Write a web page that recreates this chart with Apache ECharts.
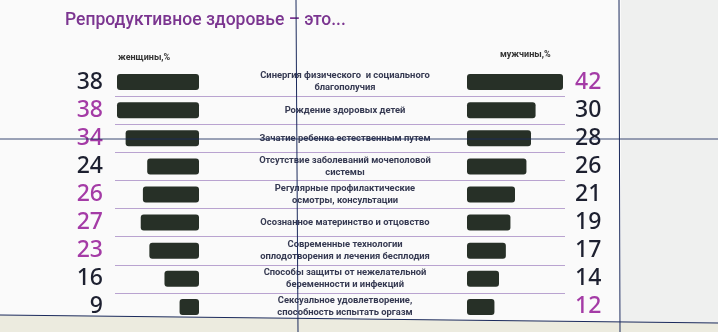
<!DOCTYPE html>
<html><head><meta charset="utf-8">
<script src="https://cdn.jsdelivr.net/npm/echarts@6/dist/echarts.min.js"></script>
<style>html,body{margin:0;padding:0;background:#fbfbfb}#c{width:718px;height:332px}</style>
</head><body><div id="c"></div>
<script>
var categories = [
  "Синергия физического  и социального\nблагополучия",
  "Рождение здоровых детей",
  "Зачатие ребенка естественным путем",
  "Отсутствие заболеваний мочеполовой\nсистемы",
  "Регулярные профилактические\nосмотры, консультации",
  "Осознанное материнство и отцовство",
  "Современные технологии\nоплодотворения и лечения бесплодия",
  "Способы защиты от нежелательной\nбеременности и инфекций",
  "Сексуальное удовлетворение,\nспособность испытать оргазм"
];
var women = [38, 38, 34, 24, 26, 27, 23, 16, 9];
var men = [42, 30, 28, 26, 21, 19, 17, 14, 12];
// highlighted (purple) values in the source
var womenHighlight = [false, true, true, false, true, true, true, false, false];
var menHighlight = [true, false, false, false, false, false, false, false, true];
var titleText = "Репродуктивное здоровье – это...";
var womenLabel = "женщины,%";
var menLabel = "мужчины,%";

(function () {
var PURPLE = '#a43ba6', DARK = '#1d2030', BAR = '#273027', INK = '#1b2a5c';
var chart = echarts.init(document.getElementById('c'), null, {renderer: 'canvas'});
var gTop = 68, gBottom = 11;
function numFmt(arr, hl) {
  return function (v, i) { return (hl[i] ? '{p|' : '{d|') + arr[i] + '}'; };
}
var numRich = {
  p: {color: PURPLE, fontSize: 23, fontFamily: 'Noto Sans', fontWeight: 500},
  d: {color: DARK, fontSize: 23, fontFamily: 'Noto Sans', fontWeight: 500}
};
chart.setOption({
  backgroundColor: '#fafafa',
  animation: false,
  grid: [
    {left: 117, right: 519, top: gTop, bottom: gBottom},
    {left: 467, right: 155, top: gTop, bottom: gBottom},
    {left: 115, right: 153, top: gTop, bottom: gBottom}
  ],
  xAxis: [
    {gridIndex: 0, type: 'value', min: 0, max: 38, inverse: true, show: false},
    {gridIndex: 1, type: 'value', min: 0, max: 42, show: false},
    {gridIndex: 2, type: 'value', min: 0, max: 1, show: false}
  ],
  yAxis: [
    {gridIndex: 0, type: 'category', data: categories, inverse: true, position: 'left',
     axisLine: {show: false, onZero: false}, axisTick: {show: false},
     axisLabel: {margin: 14, formatter: numFmt(women, womenHighlight), rich: numRich}},
    {gridIndex: 1, type: 'category', data: categories, inverse: true, position: 'right',
     axisLine: {show: false, onZero: false}, axisTick: {show: false},
     axisLabel: {margin: 12, align: 'left', formatter: numFmt(men, menHighlight), rich: numRich}},
    {gridIndex: 2, type: 'category', data: categories, inverse: true, position: 'left',
     axisLine: {show: false, onZero: false}, axisTick: {show: false},
     splitLine: {show: true, showMinLine: false, showMaxLine: false, lineStyle: {color: '#b9a3d0', width: 1}},
     axisLabel: {margin: -230, align: 'center', fontSize: 9.4, lineHeight: 12, fontWeight: 'bold',
                 fontFamily: 'Roboto', color: '#363a52'}}
  ],
  series: [
    {type: 'bar', xAxisIndex: 0, yAxisIndex: 0, data: women, barWidth: 16,
     itemStyle: {color: BAR, borderRadius: 3}},
    {type: 'bar', xAxisIndex: 1, yAxisIndex: 1, data: men, barWidth: 16,
     itemStyle: {color: BAR, borderRadius: 3}}
  ],
  graphic: [
    {type: 'rect', shape: {x: 621, y: 0, width: 97, height: 332}, style: {fill: '#eff0ef'}, z: -1, silent: true},
    {type: 'polygon', shape: {points: [[0, 315], [718, 323], [718, 332], [0, 332]]}, style: {fill: '#ecebdf'}, z: -1, silent: true},
    {type: 'text', left: 65, top: 12, style: {text: titleText, fill: '#7b3590', fontSize: 17.5, fontFamily: 'Roboto', fontWeight: 500}},
    {type: 'text', left: 118, top: 53, style: {text: womenLabel, fill: '#333', fontSize: 9, fontWeight: 'bold', fontFamily: 'Roboto'}},
    {type: 'text', left: 500, top: 50, style: {text: menLabel, fill: '#333', fontSize: 9, fontWeight: 'bold', fontFamily: 'Roboto'}},
    {type: 'line', shape: {x1: 296, y1: 0, x2: 298, y2: 332}, style: {stroke: INK, lineWidth: 1}, z: 100, silent: true},
    {type: 'line', shape: {x1: 619, y1: 0, x2: 620, y2: 332}, style: {stroke: INK, lineWidth: 1}, z: 100, silent: true},
    {type: 'line', shape: {x1: 0, y1: 139, x2: 718, y2: 139}, style: {stroke: INK, lineWidth: 1, opacity: 0.85}, z: 100, silent: true},
    {type: 'line', shape: {x1: 0, y1: 315, x2: 718, y2: 323}, style: {stroke: INK, lineWidth: 1}, z: 100, silent: true}
  ]
});
})();
</script></body></html>
